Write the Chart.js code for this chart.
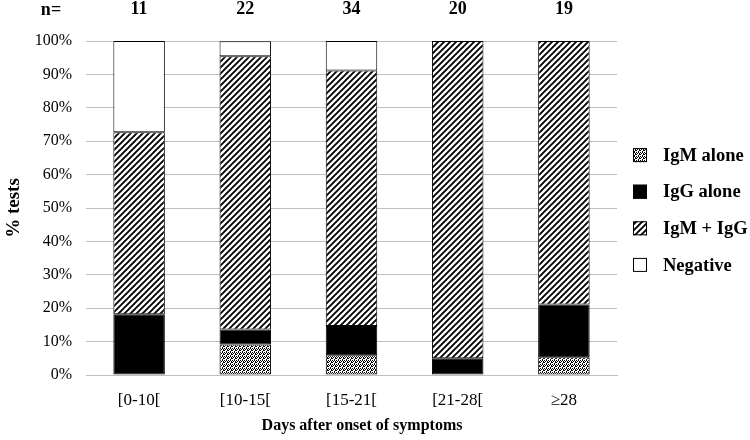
<!DOCTYPE html>
<html><head><meta charset="utf-8">
<script src="https://cdn.jsdelivr.net/npm/chart.js@4"></script>
<style>html,body{margin:0;padding:0;background:#fff}</style>
</head><body>
<div style="width:750px;height:440px"><canvas id="c" width="750" height="440"></canvas></div>
<script>
const categories = ['[0-10[', '[10-15[', '[15-21[', '[21-28[', '≥28'];
const nValues = ['11', '22', '34', '20', '19'];
const igmAlone = [0, 9.1, 5.9, 0, 5.3];
const iggAlone = [18.2, 4.5, 8.8, 5.0, 15.8];
const igmPlusIgg = [54.5, 81.8, 76.5, 95.0, 78.9];
const negative = [27.3, 4.5, 8.8, 0, 0];
const seriesNames = ['IgM alone', 'IgG alone', 'IgM + IgG', 'Negative'];
const xTitle = 'Days after onset of symptoms';
const yTitle = '% tests';

const SERIF = '"Liberation Serif", "Times New Roman", serif';

function dotPattern() {
  const c = document.createElement('canvas'); c.width = 4; c.height = 4;
  const x = c.getContext('2d');
  x.fillStyle = '#fff'; x.fillRect(0, 0, 4, 4);
  x.fillStyle = '#000';
  [[0,0],[2,0],[1,1],[3,2],[0,2],[2,3],[3,1]].forEach(p => x.fillRect(p[0], p[1], 1, 1));
  return x.createPattern(c, 'repeat');
}
function hatchPattern() {
  const s = 6;
  const c = document.createElement('canvas'); c.width = s; c.height = s;
  const x = c.getContext('2d');
  x.fillStyle = '#fff'; x.fillRect(0, 0, s, s);
  x.strokeStyle = '#000'; x.lineWidth = 1.9;
  x.beginPath();
  x.moveTo(0, s); x.lineTo(s, 0);
  x.moveTo(-s/2, s/2); x.lineTo(s/2, -s/2);
  x.moveTo(s/2, s*1.5); x.lineTo(s*1.5, s/2);
  x.stroke();
  return x.createPattern(c, 'repeat');
}

const ctx = document.getElementById('c').getContext('2d');
const fills = [dotPattern(), '#000', hatchPattern(), '#fff'];
const values = [igmAlone, iggAlone, igmPlusIgg, negative];

const extrasPlugin = {
  id: 'extras',
  afterDraw(chart) {
    const c = chart.ctx;
    const area = chart.chartArea;
    c.save();
    c.fillStyle = '#000';
    c.textBaseline = 'middle';
    c.textAlign = 'center';
    // "n=" label in line with the top axis
    c.font = 'bold 18px ' + SERIF;
    c.fillText('n=', 51, 10);
    // x axis title
    c.font = 'bold 16px ' + SERIF;
    c.fillText(xTitle, 362, 426);
    // legend
    c.font = 'bold 18.5px ' + SERIF;
    c.textAlign = 'left';
    const step = 36.6;
    const mid = (area.top + area.bottom) / 2 + 2;
    const bx = area.right + 16;
    chart.data.datasets.forEach((ds, i) => {
      const yc = mid + (i - 1.5) * step;
      c.fillStyle = ds.backgroundColor;
      c.fillRect(bx, yc - 7, 14, 14);
      c.strokeStyle = '#000'; c.lineWidth = 1;
      c.strokeRect(bx + 0.5, yc - 6.5, 13, 13);
      c.fillStyle = '#000';
      c.fillText(ds.label, bx + 30, yc + 1);
    });
    c.restore();
  }
};

new Chart(ctx, {
  type: 'bar',
  data: {
    labels: categories,
    datasets: seriesNames.map((name, i) => ({
      label: name,
      data: values[i],
      backgroundColor: fills[i],
      borderColor: '#000',
      borderWidth: 1,
      borderSkipped: false,
      categoryPercentage: 1,
      barPercentage: 0.485
    }))
  },
  options: {
    responsive: false,
    animation: false,
    layout: { padding: { left: 0, right: 133, top: 0, bottom: 0 } },
    plugins: {
      tooltip: { enabled: false },
      legend: { display: false }
    },
    scales: {
      x: {
        stacked: true,
        afterFit: s => { s.height = 65; },
        grid: { display: false, drawTicks: false },
        border: { display: true, color: '#bfbfbf', width: 1 },
        ticks: { color: '#000', padding: 15, font: { family: SERIF, size: 17 } }
      },
      x2: {
        type: 'category',
        position: 'top',
        labels: nValues,
        offset: true,
        afterFit: s => { s.height = 41; },
        grid: { display: false, drawTicks: false },
        border: { display: false },
        ticks: { color: '#000', padding: 21, font: { family: SERIF, size: 18, weight: 'bold' } }
      },
      y: {
        stacked: true,
        min: 0, max: 100,
        afterFit: s => { s.width = 86; },
        ticks: { stepSize: 10, color: '#000', padding: 14, font: { family: SERIF, size: 16 }, callback: v => v + '%' },
        grid: { color: '#bfbfbf', drawTicks: false },
        border: { display: false },
        title: { display: true, text: yTitle, color: '#000', padding: { top: 3, bottom: 0 }, font: { family: SERIF, size: 19, weight: 'bold' } }
      }
    }
  },
  plugins: [extrasPlugin]
});
</script>
</body></html>
